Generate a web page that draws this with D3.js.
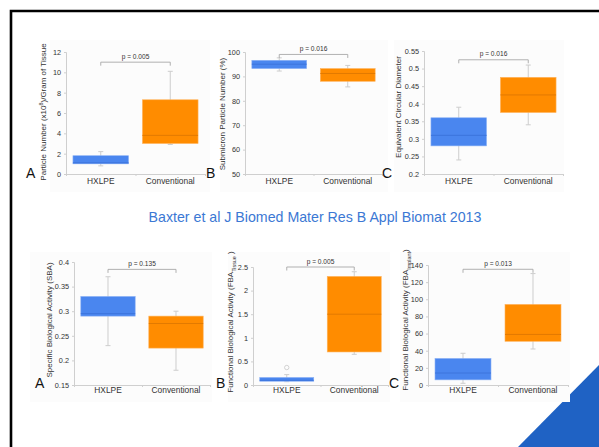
<!DOCTYPE html>
<html>
<head>
<meta charset="utf-8">
<script src="https://cdn.jsdelivr.net/npm/d3@7"></script>
<style>
  html, body { margin: 0; padding: 0; background: #fff; }
  svg { display: block; font-family: "Liberation Sans", Arial, sans-serif; }
</style>
</head>
<body>
<svg id="slide" width="599" height="447"></svg>
<script>
// Groups compared in every panel
const categories = ["HXLPE", "Conventional"];

// Box statistics per group: [lower whisker, Q1, median, Q3, upper whisker]
const particleNumber   = [[0.8, 1.0, 1.1, 1.8, 2.2],       [2.9, 3.0, 3.8, 7.3, 10.1]];
const submicronPercent = [[92.2, 93.2, 95.0, 96.6, 97.6],  [85.7, 88.0, 91.2, 93.2, 94.5]];
const ecdValues        = [[0.24, 0.28, 0.31, 0.36, 0.39],  [0.34, 0.375, 0.425, 0.475, 0.51]];
const sbaValues        = [[0.23, 0.29, 0.295, 0.33, 0.37], [0.18, 0.225, 0.275, 0.29, 0.30]];
const fbaTissue        = [[0.07, 0.08, 0.10, 0.16, 0.22],  [0.65, 0.70, 1.50, 2.30, 2.40]];
const fbaImplant       = [[2, 6, 14, 31, 37],              [42, 51, 59, 94, 130]];

// Outlying points drawn as open circles: [category index, value]
const fbaTissueOutliers = [[0, 0.37]];

// p-values of each comparison
const pValues = ["p = 0.005", "p = 0.016", "p = 0.016", "p = 0.135", "p = 0.005", "p = 0.013"];

// Y tick values per panel
const ticksParticle  = [0, 2, 4, 6, 8, 10, 12];
const ticksSubmicron = [50, 60, 70, 80, 90, 100];
const ticksEcd       = [0.2, 0.25, 0.3, 0.35, 0.4, 0.45, 0.5, 0.55];
const ticksSba       = [0.15, 0.2, 0.25, 0.3, 0.35, 0.4];
const ticksFbaT      = [0, 0.5, 1, 1.5, 2, 2.5];
const ticksFbaI      = [0, 20, 40, 60, 80, 100, 120, 140];

const svg = d3.select("#slide");
const COLORS = ["#4a86ef", "#ff8c00"];
const MEDIAN = ["#3c74dc", "#e27a00"];

// Slide frame (top and left edges)
svg.append("path")
  .attr("d", "M11,447 L11,11 L599,11")
  .attr("fill", "none").attr("stroke", "#000").attr("stroke-width", 2.6);

// Corner accent
svg.append("path")
  .attr("d", "M599,365 L599,447 L518,447 Z")
  .attr("fill", "#1f62c4");

// Citation line
svg.append("text")
  .attr("x", 315).attr("y", 222).attr("text-anchor", "middle")
  .attr("font-size", 14.2).attr("fill", "#3b78d4")
  .text("Baxter et al J Biomed Mater Res B Appl Biomat 2013");

const panels = [
  { stats: particleNumber, ticks: ticksParticle, domain: [0, 12], p: pValues[0], bracketV: 11.0,
    x0: 66, x1: 205, yTop: 52, yBot: 174, letter: "A", lx: 26, ly: 178, catY: 184,
    label: [["Particle Number (x10"], ["8", "sup"], [")/Gram of Tissue"]], labX: 46, labY: 112, bg: [50, 40, 160, 152] },
  { stats: submicronPercent, ticks: ticksSubmicron, domain: [50, 100], p: pValues[1], bracketV: 99.0,
    x0: 245, x1: 382, yTop: 52, yBot: 174, letter: "B", lx: 206, ly: 178, catY: 184,
    label: [["Submicron Particle Number (%)"]], labX: 225, labY: 114, bg: [220, 40, 168, 152] },
  { stats: ecdValues, ticks: ticksEcd, domain: [0.2, 0.55], p: pValues[2], bracketV: 0.525,
    x0: 424, x1: 563, yTop: 51, yBot: 174, letter: "C", lx: 382, ly: 178, catY: 184,
    label: [["Equivalent Circular Diameter"]], labX: 401, labY: 107, bg: [394, 40, 170, 152] },
  { stats: sbaValues, ticks: ticksSba, domain: [0.15, 0.4], p: pValues[3], bracketV: 0.385,
    x0: 74, x1: 210, yTop: 262, yBot: 385, letter: "A", lx: 35, ly: 388, catY: 393,
    label: [["Specific Biological Activity (SBA)"]], labX: 52, labY: 320, bg: [30, 252, 182, 150] },
  { stats: fbaTissue, ticks: ticksFbaT, domain: [0, 2.5], p: pValues[4], bracketV: 2.5,
    x0: 253, x1: 388, yTop: 267, yBot: 385, letter: "B", lx: 216, ly: 388, catY: 393, outliers: fbaTissueOutliers,
    label: [["Functional Biological Activity (FBA"], ["Tissue", "sub"], [" )"]], labX: 233, labY: 322, bg: [228, 252, 162, 150] },
  { stats: fbaImplant, ticks: ticksFbaI, domain: [0, 140], p: pValues[5], bracketV: 135,
    x0: 428, x1: 568, yTop: 265, yBot: 385, letter: "C", lx: 389, ly: 388, catY: 393,
    label: [["Functional Biological Activity (FBA"], ["Implant", "sub"], [")"]], labX: 408, labY: 320, bg: [400, 252, 170, 150] }
];

panels.forEach(cfg => {
  const g = svg.append("g");

  // Very faint panel backdrop
  g.append("rect")
    .attr("x", cfg.bg[0]).attr("y", cfg.bg[1]).attr("width", cfg.bg[2]).attr("height", cfg.bg[3])
    .attr("fill", "#fcfcfc");

  const y = d3.scaleLinear().domain(cfg.domain).range([cfg.yBot, cfg.yTop]);
  const x = d3.scaleBand().domain(categories).range([cfg.x0, cfg.x1]).paddingInner(0.2).paddingOuter(0.1);
  const xc = c => x(c) + x.bandwidth() / 2;

  // Y axis
  const yAxis = g.append("g").attr("transform", `translate(${cfg.x0},0)`)
    .call(d3.axisLeft(y).tickValues(cfg.ticks).tickSize(2).tickPadding(3).tickFormat(d3.format("~g")));
  yAxis.select(".domain").attr("stroke", "#cfcfcf");
  yAxis.selectAll(".tick line").attr("stroke", "#cfcfcf");
  yAxis.selectAll(".tick text").attr("font-size", 7.3).attr("fill", "#333").attr("font-family", "Liberation Sans, Arial, sans-serif");

  // X axis with separators between groups
  const xb = d3.scaleLinear().domain([0, 2]).range([cfg.x0, cfg.x1]);
  const xAxis = g.append("g").attr("transform", `translate(0,${cfg.yBot})`)
    .call(d3.axisBottom(xb).tickValues([0, 1, 2]).tickSize(2).tickFormat(""));
  xAxis.select(".domain").attr("stroke", "#cfcfcf");
  xAxis.selectAll(".tick line").attr("stroke", "#cfcfcf");

  g.selectAll(".cat").data(categories).join("text")
    .attr("x", d => xc(d)).attr("y", cfg.catY).attr("text-anchor", "middle")
    .attr("font-size", 8.4).attr("fill", "#333").text(d => d);

  // Whiskers
  cfg.stats.forEach((s, i) => {
    const cx = xc(categories[i]);
    const wg = g.append("g").attr("stroke", "#cdcdcd").attr("stroke-width", 1);
    wg.append("line").attr("x1", cx).attr("x2", cx).attr("y1", y(s[0])).attr("y2", y(s[4]));
    [s[0], s[4]].forEach(v => {
      wg.append("line").attr("x1", cx - 2.5).attr("x2", cx + 2.5).attr("y1", y(v)).attr("y2", y(v));
    });
  });

  // Boxes and medians
  cfg.stats.forEach((s, i) => {
    const bx = x(categories[i]);
    g.append("rect")
      .attr("x", bx).attr("y", y(s[3]))
      .attr("width", x.bandwidth()).attr("height", y(s[1]) - y(s[3]))
      .attr("fill", COLORS[i]).attr("stroke", i ? "#ffb25a" : "#8db2f5").attr("stroke-width", 0.6);
    g.append("line")
      .attr("x1", bx).attr("x2", bx + x.bandwidth())
      .attr("y1", y(s[2])).attr("y2", y(s[2]))
      .attr("stroke", MEDIAN[i]).attr("stroke-width", 1);
  });

  // Outliers
  (cfg.outliers || []).forEach(o => {
    g.append("circle").attr("cx", xc(categories[o[0]])).attr("cy", y(o[1])).attr("r", 2.2)
      .attr("fill", "none").attr("stroke", "#c8c8c8").attr("stroke-width", 0.8);
  });

  // Significance bracket
  const by = y(cfg.bracketV);
  const xa = xc(categories[0]), xz = xc(categories[1]);
  g.append("path")
    .attr("d", `M${xa},${by + 3.5} L${xa},${by} L${xz},${by} L${xz},${by + 3.5}`)
    .attr("fill", "none").attr("stroke", "#a8a8a8").attr("stroke-width", 0.9);
  g.append("text")
    .attr("x", (xa + xz) / 2).attr("y", by - 3.5).attr("text-anchor", "middle")
    .attr("font-size", 6.6).attr("fill", "#333").text(cfg.p);

  // Y axis title
  const t = g.append("text")
    .attr("transform", `translate(${cfg.labX},${cfg.labY}) rotate(-90)`)
    .attr("text-anchor", "middle").attr("font-size", 8).attr("fill", "#333");
  cfg.label.forEach(part => {
    const ts = t.append("tspan").text(part[0]);
    if (part[1] === "sup") ts.attr("baseline-shift", "super").attr("font-size", 5.4);
    if (part[1] === "sub") ts.attr("baseline-shift", "sub").attr("font-size", 5.4);
  });

  // Panel letter
  g.append("text")
    .attr("x", cfg.lx).attr("y", cfg.ly)
    .attr("font-size", 14).attr("fill", "#111").text(cfg.letter);
});
</script>
</body>
</html>
